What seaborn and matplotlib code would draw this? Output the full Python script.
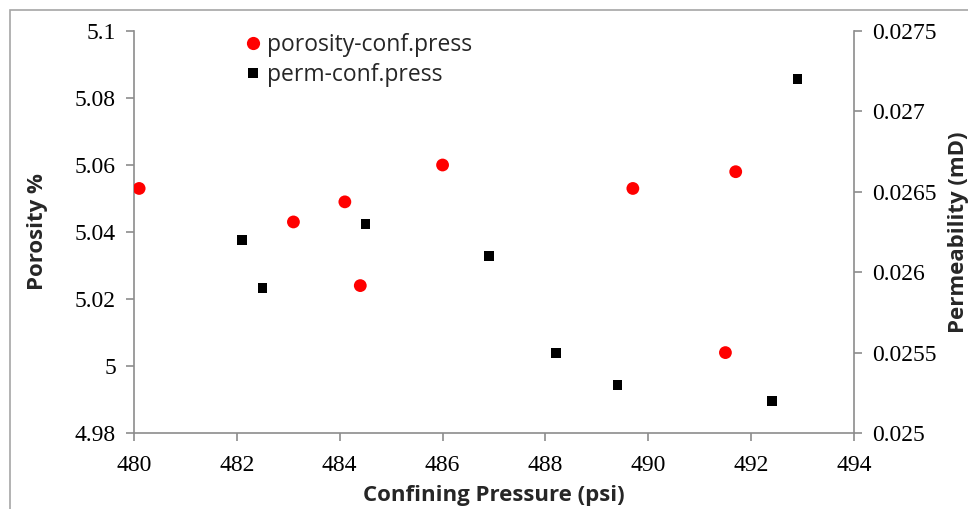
import matplotlib
matplotlib.use("Agg")
import matplotlib.pyplot as plt
import seaborn as sns
import pandas as pd
from matplotlib.patches import Rectangle
from matplotlib.lines import Line2D

sns.set_theme(style="white")

# Data
por_press = [480.1, 483.1, 484.1, 484.4, 486.0, 489.7, 491.5, 491.7]
porosity = [5.053, 5.043, 5.049, 5.024, 5.060, 5.053, 5.004, 5.058]
perm_press = [482.1, 482.5, 484.5, 486.9, 488.2, 489.4, 492.4, 492.9]
permeability = [0.0262, 0.0259, 0.0263, 0.0261, 0.0255, 0.0253, 0.0252, 0.0272]
x_ticks = [480, 482, 484, 486, 488, 490, 492, 494]
y_ticks = [4.98, 5.0, 5.02, 5.04, 5.06, 5.08, 5.1]
y_tick_labels = ["4.98", "5", "5.02", "5.04", "5.06", "5.08", "5.1"]
y2_ticks = [0.025, 0.0255, 0.026, 0.0265, 0.027, 0.0275]
y2_tick_labels = ["0.025", "0.0255", "0.026", "0.0265", "0.027", "0.0275"]

df_por = pd.DataFrame({"press": por_press, "val": porosity})
df_perm = pd.DataFrame({"press": perm_press, "val": permeability})

fig = plt.figure(figsize=(9.68, 5.09), dpi=100)
fig.patch.set_facecolor("white")
ax = fig.add_axes([134/968, 1 - 433/509, (854-134)/968, (433-31)/509])
ax2 = ax.twinx()

sns.scatterplot(data=df_por, x="press", y="val", ax=ax, color="#ff0000",
                marker="o", s=85, edgecolor="none", zorder=3, legend=False)
sns.scatterplot(data=df_perm, x="press", y="val", ax=ax2, color="black",
                marker="s", s=50, edgecolor="none", zorder=3, legend=False)

spine_c = "#8c8c8c"
tick_font = dict(family="Liberation Serif", size=17)
label_font = dict(family="Open Sans", size=16, weight="bold")

ax.set_xlim(480, 494)
ax.set_ylim(4.98, 5.1)
ax2.set_ylim(0.025, 0.0275)
ax.set_xticks(x_ticks)
ax.set_xticklabels([str(t) for t in x_ticks], fontdict=tick_font)
ax.set_yticks(y_ticks)
ax.set_yticklabels(y_tick_labels, fontdict=tick_font)
ax2.set_yticks(y2_ticks)
ax2.set_yticklabels(y2_tick_labels, fontdict=tick_font)

for a in (ax, ax2):
    for s in a.spines.values():
        s.set_visible(False)
ax.spines["left"].set_visible(True)
ax.spines["bottom"].set_visible(True)
ax2.spines["right"].set_visible(True)
for s in (ax.spines["left"], ax.spines["bottom"], ax2.spines["right"]):
    s.set_color(spine_c)
    s.set_linewidth(1.2)

ax.tick_params(axis="x", direction="out", length=6, width=1.2, color=spine_c,
               labelcolor="black", pad=10, bottom=True)
ax.tick_params(axis="y", direction="out", length=6, width=1.2, color=spine_c,
               labelcolor="black", pad=7, left=True)
ax2.tick_params(axis="y", direction="out", length=6, width=1.2, color=spine_c,
                labelcolor="black", pad=7, right=True)

ax.set_xlabel("Confining Pressure (psi)", fontdict=label_font, labelpad=6)
ax.set_ylabel("Porosity %", fontdict=label_font, labelpad=19)
ax2.set_ylabel("Permeability (mD)", fontdict=label_font, labelpad=8)

handles = [
    Line2D([], [], linestyle="none", marker="o", color="#ff0000", markersize=9.5,
           markeredgewidth=0),
    Line2D([], [], linestyle="none", marker="s", color="black", markersize=7,
           markeredgewidth=0),
]
ax.legend(handles, ["porosity-conf.press", "perm-conf.press"], loc="upper left",
          bbox_to_anchor=(0.138, 1.018), frameon=False,
          prop=dict(family="Open Sans", size=16.5), handletextpad=0.15,
          handlelength=0.9, labelspacing=0.25, borderaxespad=0)

# Outer border (chart area frame)
fig.add_artist(Rectangle((10/968, -0.1), 1.2, 1 - 10/509 + 0.1, transform=fig.transFigure,
                         fill=False, edgecolor="#a6a6a6", linewidth=1.2))

fig.savefig("out.png", dpi=100, facecolor="white")
